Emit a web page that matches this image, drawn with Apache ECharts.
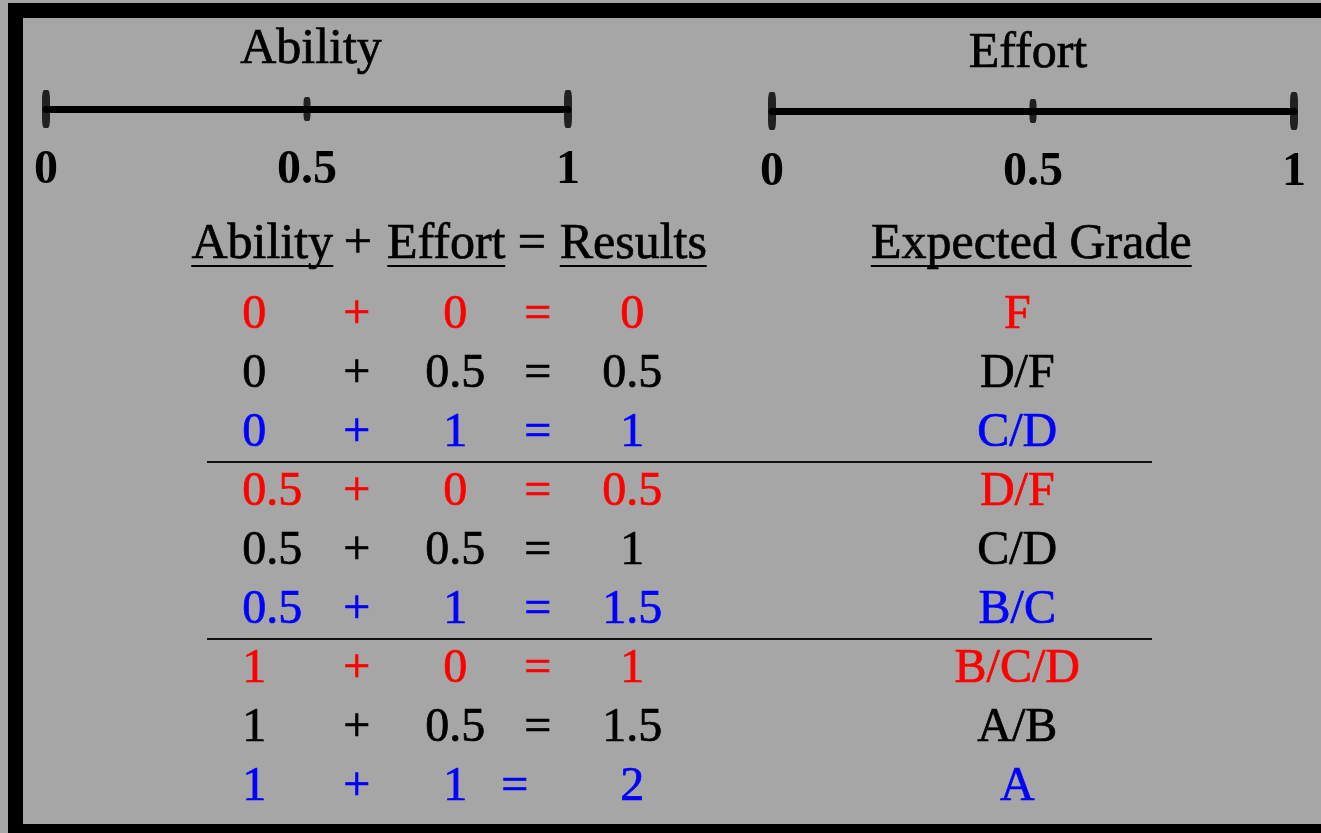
<!DOCTYPE html>
<html><head><meta charset="utf-8">
<script src="https://cdn.jsdelivr.net/npm/echarts@6/dist/echarts.min.js"></script>
<style>html,body{margin:0;padding:0;background:#a6a6a6;}#c{width:1321px;height:833px;}</style>
</head><body><div id="c"></div>
<script>
// ---------- data ----------
const scaleTicks = [0, 0.5, 1];
const scaleTitles = ['Ability', 'Effort'];
const headers = ['Ability', '+', 'Effort', '=', 'Results', 'Expected Grade'];
const abilityVals = ['0', '0', '0', '0.5', '0.5', '0.5', '1', '1', '1'];
const plusSigns = ['+', '+', '+', '+', '+', '+', '+', '+', '+'];
const effortVals = ['0', '0.5', '1', '0', '0.5', '1', '0', '0.5', '1'];
const equalSigns = ['=', '=', '=', '=', '=', '=', '=', '=', '='];
const resultVals = ['0', '0.5', '1', '0.5', '1', '1.5', '1', '1.5', '2'];
const grades = ['F', 'D/F', 'C/D', 'D/F', 'C/D', 'B/C', 'B/C/D', 'A/B', 'A'];

// ---------- styles / layout ----------
const FONT = '"Liberation Serif", "Times New Roman", serif';
const rowColors = ['#ff0000', '#000000', '#0000ff'];
const columns = [abilityVals, plusSigns, effortVals, equalSigns, resultVals, grades];
const colSlot = [0, 1, 2, 3, 4, 8];
const colNudge = [-12, 8, 12, 0, 0, 7];
const colAlign = ['left', 'center', 'center', 'center', 'center', 'center'];
const headNudge = [8, 9, 3, -6, 1, 21];
const underlined = [true, false, true, false, true, true];
const slotNames = ['s0', 's1', 's2', 's3', 's4', 's5', 's6', 's7', 's8', 's9'];
const rowNames = ['head', 'r1', 'r2', 'r3', 'r4', 'r5', 'r6', 'r7', 'r8', 'r9'];
const STROKE = 0.7;

const ctx = document.createElement('canvas').getContext('2d');
ctx.font = '50px ' + FONT;
const headRich = { h: { fontSize: 50, fontFamily: FONT, color: '#000', lineHeight: 40, align: 'center',
                        textBorderColor: '#000', textBorderWidth: STROKE } };
headers.forEach((h, i) => {
  headRich['u' + i] = {
    width: Math.round(ctx.measureText(h).width), height: 2, lineHeight: 3,
    backgroundColor: underlined[i] ? '#000' : 'transparent'
  };
});

const cellData = [];
columns.forEach((col, c) => {
  col.forEach((txt, r) => {
    let dx = colNudge[c];
    if (c === 3 && r === 8) dx -= 23;
    const color = rowColors[r % 3];
    cellData.push({
      name: txt,
      value: [colSlot[c], r + 1],
      label: { color: color, textBorderColor: color, textBorderWidth: STROKE, align: colAlign[c], offset: [dx, 1] }
    });
  });
});
const headData = headers.map((h, i) => ({ name: h, value: [colSlot[i], 0], label: { offset: [headNudge[i], -9] } }));

const scaleAxis = (gi) => ({
  type: 'value', gridIndex: gi, min: 0, max: 1, interval: 0.5,
  axisLine: { show: true, lineStyle: { color: '#000', width: 7 } },
  axisTick: { show: false }, splitLine: { show: false },
  axisLabel: { show: true, fontSize: 48, fontWeight: 'bold', fontFamily: FONT, color: '#000', margin: 38,
               showMinLabel: true, showMaxLabel: true }
});
const tickSeries = (gi) => ({
  type: 'scatter', xAxisIndex: gi, yAxisIndex: gi, clip: false, silent: true,
  symbol: 'roundRect',
  symbolSize: (v) => (v[0] === 0.5 ? [7, 24] : [8, 38]),
  itemStyle: { color: '#000' },
  data: scaleTicks.map(t => [t, 0])
});

const chart = echarts.init(document.getElementById('c'), null, { renderer: 'canvas' });
chart.setOption({
  backgroundColor: '#a6a6a6',
  animation: false,
  title: scaleTitles.map((t, i) => ({
    text: t, left: i === 0 ? 311 : 1028, top: i === 0 ? 25 : 29, textAlign: 'center', padding: 0,
    textStyle: { fontSize: 50, fontFamily: FONT, fontWeight: 'normal', color: '#000',
                 textBorderColor: '#000', textBorderWidth: STROKE }
  })),
  graphic: [
    { type: 'rect', shape: { x: 8, y: 3, width: 15, height: 830 }, style: { fill: '#000' } },
    { type: 'rect', shape: { x: 8, y: 3, width: 1313, height: 15 }, style: { fill: '#000' } },
    { type: 'rect', shape: { x: 8, y: 824, width: 1313, height: 9 }, style: { fill: '#000' } }
  ],
  grid: [
    { left: 46, top: 60, width: 522, height: 49 },
    { left: 772, top: 62, width: 522, height: 49 },
    { left: 207, top: 225.5, width: 945, height: 590 }
  ],
  xAxis: [
    scaleAxis(0), scaleAxis(1),
    { type: 'category', gridIndex: 2, data: slotNames, show: false }
  ],
  yAxis: [
    { type: 'value', gridIndex: 0, min: 0, max: 1, show: false },
    { type: 'value', gridIndex: 1, min: 0, max: 1, show: false },
    { type: 'category', gridIndex: 2, data: rowNames, inverse: true,
      axisLine: { show: false }, axisTick: { show: false }, axisLabel: { show: false },
      splitLine: { show: true, showMaxLine: false,
                   interval: (i) => i === 4 || i === 7, lineStyle: { color: '#111', width: 2 } } }
  ],
  series: [
    tickSeries(0), tickSeries(1),
    { type: 'scatter', xAxisIndex: 2, yAxisIndex: 2, silent: true, clip: false,
      symbolSize: 1, itemStyle: { color: 'rgba(0,0,0,0)' },
      label: { show: true, position: 'inside', formatter: '{b}', fontSize: 48, fontFamily: FONT, opacity: 1 },
      data: cellData },
    { type: 'scatter', xAxisIndex: 2, yAxisIndex: 2, silent: true, clip: false,
      symbolSize: 1, itemStyle: { color: 'rgba(0,0,0,0)' },
      label: { show: true, position: 'inside', align: 'center', opacity: 1,
               formatter: (p) => '{h|' + headers[p.dataIndex] + '}\n{u' + p.dataIndex + '|}',
               rich: headRich },
      data: headData }
  ]
});
</script></body></html>
